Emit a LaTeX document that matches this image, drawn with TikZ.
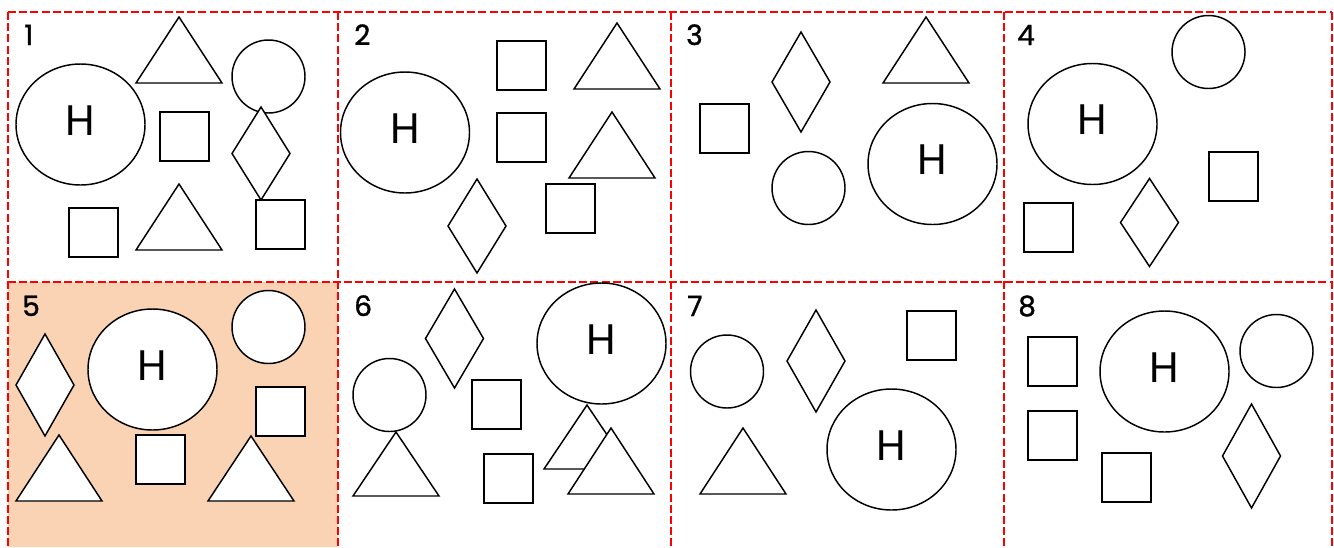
\documentclass[tikz,border=0pt]{standalone}
\usepackage{fontspec}
\setmainfont{Poppins}
\newfontfamily\numfont{Poppins}[FakeBold=1.2]
\definecolor{peach}{HTML}{F9D3B4}
\definecolor{gridred}{HTML}{FF0000}
\newcommand\mysq[2]{\draw[shp] (#1,#2) rectangle ++(49,49);}
\newcommand\mytri[3]{\draw[shp] (#1,#2) -- ({#1+43},#3) -- ({#1-43},#3) -- cycle;}
\newcommand\mydia[4]{\draw[shp] (#1,{#2-#4}) -- ({#1+#3},#2) -- (#1,{#2+#4}) -- ({#1-#3},#2) -- cycle;}
\newcommand\mycirc[2]{\draw[shp] (#1,#2) circle [radius=36.5];}
\newcommand\myell[3]{\draw[shp] (#1,#2) ellipse [x radius=64.5, y radius=60.5]; \node[hlab] (#3) at (#1,{#2-4}) {H};}
\begin{document}
\begin{tikzpicture}[x=0.75pt,y=-0.75pt,
  shp/.style={draw=black,fill=white,line width=1.1pt,line join=miter},
  grid/.style={draw=gridred,line width=1.1pt,dash pattern=on 6pt off 2.4pt},
  num/.style={font=\numfont\fontsize{21}{21}\selectfont,anchor=base west,inner sep=0pt},
  hlab/.style={font=\fontsize{32}{32}\selectfont,inner sep=0pt}]
\useasboundingbox (0,0) rectangle (1334,547);
\fill[peach] (8,282) rectangle (338,547);
% grid
\foreach \x in {8,338,671,1004,1332} \draw[grid] (\x,12) -- (\x,548);
\foreach \y in {12,282} \draw[grid] (8,\y) -- (1332,\y);
% numbers
\node[num] (n1) at (24,45) {1};
\node[num] (n2) at (354,45) {2};
\node[num] (n3) at (686,45) {3};
\node[num] (n4) at (1017,45) {4};
\node[num] (n5) at (22,316) {5};
\node[num] (n6) at (354,316) {6};
\node[num] (n7) at (687,316) {7};
\node[num] (n8) at (1018,316) {8};
% cell 1
\myell{80.5}{124.5}{h1}
\mytri{179}{17}{83}
\mycirc{268.5}{76.5}
\mysq{160}{112}
\mydia{261}{153.5}{29}{46.5}
\mysq{69}{208}
\mytri{179}{184}{250}
\mysq{256}{200}
% cell 2
\myell{405}{132.5}{h2}
\mysq{497}{41}
\mytri{617}{23}{89}
\mysq{497}{113}
\mytri{612}{112}{178}
\mydia{477}{226}{29}{47}
\mysq{546}{184}
% cell 3
\mysq{700}{104}
\mydia{801}{82}{29}{50}
\mytri{926}{17}{83}
\mycirc{808.5}{188}
\myell{932.5}{164}{h3}
% cell 4
\mycirc{1208.5}{52}
\myell{1092.5}{124}{h4}
\mysq{1209}{152}
\mysq{1024}{203}
\mydia{1149.5}{222.5}{29}{44}
% cell 5
\mydia{45}{385}{29}{51}
\myell{152.5}{369.5}{h5}
\mycirc{268.5}{327}
\mysq{256}{387}
\mytri{59}{435}{501}
\mysq{136}{435}
\mytri{251}{436}{501}
% cell 6
\mydia{454.5}{338.5}{29}{49.5}
\myell{601.5}{343.5}{h6}
\mycirc{389.5}{395}
\mysq{472}{380}
\mytri{396}{432}{496}
\mysq{484}{454}
\mytri{587}{405}{469}
\mytri{611}{428}{494}
% cell 7
\mycirc{727}{371.5}
\mydia{816}{361}{29}{51}
\mysq{907}{311}
\mytri{743}{428}{494}
\myell{891.5}{449.5}{h7}
% cell 8
\mysq{1028}{337}
\mysq{1028}{411}
\myell{1164.5}{371.5}{h8}
\mycirc{1276.5}{351}
\mysq{1102}{453}
\mydia{1251.5}{456}{29}{52}
\end{tikzpicture}
\end{document}
